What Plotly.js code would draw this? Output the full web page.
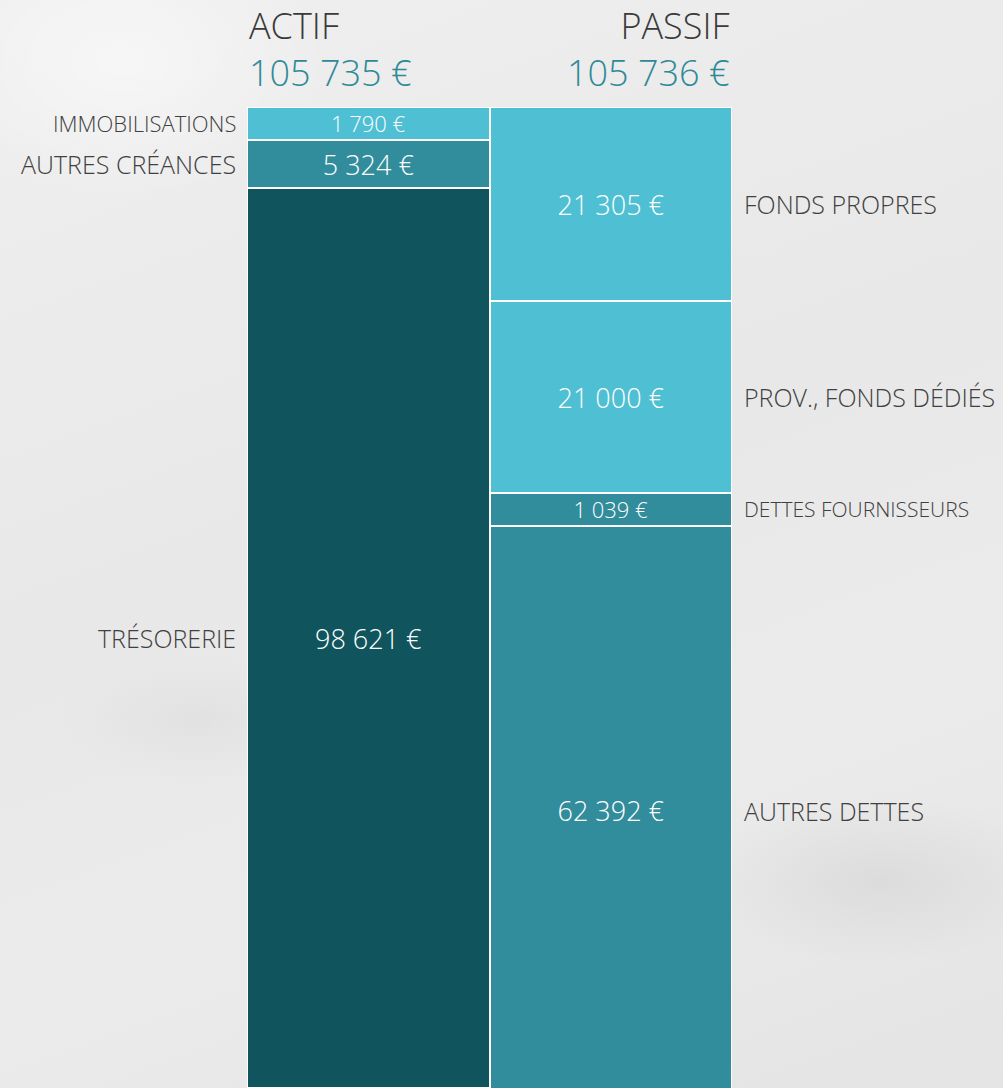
<!DOCTYPE html>
<html>
<head>
<meta charset="utf-8">
<script src="https://cdn.plot.ly/plotly-3.0.1.min.js"></script>
<style>
  html, body { margin: 0; padding: 0; }
  body {
    width: 1003px; height: 1088px; overflow: hidden;
    background:
      radial-gradient(ellipse 260px 120px at 880px 880px, rgba(150,150,150,0.15), rgba(0,0,0,0) 70%),
      radial-gradient(ellipse 200px 90px at 200px 720px, rgba(160,160,160,0.10), rgba(0,0,0,0) 70%),
      radial-gradient(ellipse 300px 200px at 120px 60px, rgba(255,255,255,0.5), rgba(255,255,255,0) 70%),
      linear-gradient(160deg, #efefef 0%, #e8e8e8 45%, #ebebeb 70%, #e4e4e4 100%);
  }
  #chart { width: 1003px; height: 1088px; }
</style>
</head>
<body>
<div id="chart"></div>
<script>
// ---- data ----
const sides = ['ACTIF', 'PASSIF'];
const actifCategories = ['IMMOBILISATIONS', 'AUTRES CRÉANCES', 'TRÉSORERIE'];
const actifValues = [1790, 5324, 98621];
const passifCategories = ['FONDS PROPRES', 'PROV., FONDS DÉDIÉS', 'DETTES FOURNISSEURS', 'AUTRES DETTES'];
const passifValues = [21305, 21000, 1039, 62392];

// ---- styles ----
const actifColors = ['#4fc0d3', '#318c9b', '#10555e'];
const passifColors = ['#4fc0d3', '#4fc0d3', '#318c9b', '#318c9b'];
const FONT = 'Open Sans, sans-serif';
const W = 300;

function fmt(v) {
  return String(v).replace(/\B(?=(\d{3})+(?!\d))/g, ' ') + ' €';
}
const sum = a => a.reduce((s, v) => s + v, 0);
const actifTotal = sum(actifValues);
const passifTotal = sum(passifValues);
// small segments are drawn with a minimum visible height (as in the original)
const minShown = 0.034 * Math.max(actifTotal, passifTotal);
const shown = v => Math.max(v, minShown);

const traces = [];
const annotations = [];

function addSide(side, cats, vals, colors, labelSide) {
  let cum = 0;
  cats.forEach((c, i) => {
    const h = shown(vals[i]);
    const small = h > vals[i] + 1;
    traces.push({
      type: 'bar',
      x: [side],
      y: [h],
      name: c,
      text: [fmt(vals[i])],
      textposition: 'inside',
      insidetextanchor: 'middle',
      textangle: 0,
      constraintext: 'none',
      textfont: { family: FONT, size: small ? 22 : 27, color: '#ffffff', weight: W },
      marker: { color: colors[i], line: { color: '#ffffff', width: 2 } },
      hoverinfo: 'skip',
      showlegend: false
    });
    const mid = cum + h / 2;
    cum += h;
    annotations.push({
      xref: 'paper', yref: 'y',
      x: labelSide === 'left' ? 0 : 1,
      y: mid,
      xanchor: labelSide === 'left' ? 'right' : 'left',
      yanchor: 'middle',
      xshift: labelSide === 'left' ? -9 : 10,
      text: c,
      showarrow: false,
      font: { family: FONT, size: small ? (labelSide === 'left' ? 22 : 21) : 25, color: '#404040', weight: W }
    });
  });
}
addSide(sides[0], actifCategories, actifValues, actifColors, 'left');
addSide(sides[1], passifCategories, passifValues, passifColors, 'right');

// headers (name + total on two lines)
function header(side, total, x, anchor) {
  return {
    xref: 'paper', yref: 'paper', x: x, y: 1.0595, xanchor: anchor, yanchor: 'middle', showarrow: false,
    align: anchor,
    text: side + '<br><span style="color:#2e8a98">' + fmt(total) + '</span>',
    font: { family: FONT, size: 36, color: '#3a3a3a', weight: W }
  };
}
annotations.push(header(sides[0], actifTotal, 0, 'left'));
annotations.push(header(sides[1], passifTotal, 1, 'right'));

const layout = {
  width: 1003, height: 1088,
  margin: { l: 247, r: 271, t: 107, b: 0, pad: 0 },
  paper_bgcolor: 'rgba(0,0,0,0)',
  plot_bgcolor: 'rgba(0,0,0,0)',
  barmode: 'stack',
  bargap: 0,
  showlegend: false,
  xaxis: { type: 'category', categoryorder: 'array', categoryarray: sides, range: [-0.5, 1.5],
           showticklabels: false, showgrid: false, zeroline: false, showline: false, fixedrange: true },
  yaxis: { range: [107500, 0], showticklabels: false, showgrid: false, zeroline: false, showline: false, fixedrange: true },
  annotations: annotations,
  font: { family: FONT }
};

Plotly.newPlot('chart', traces, layout, { staticPlot: true, displayModeBar: false });
</script>
</body>
</html>
